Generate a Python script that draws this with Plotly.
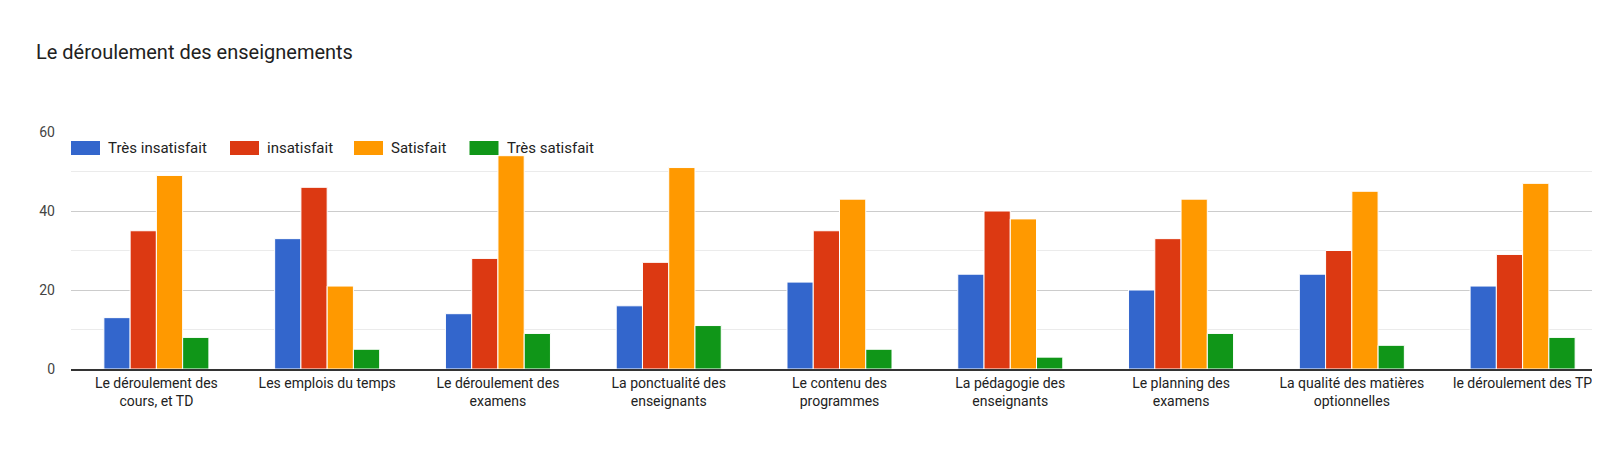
import plotly.graph_objects as go

categories = [
    "Le déroulement des<br>cours, et TD",
    "Les emplois du temps",
    "Le déroulement des<br>examens",
    "La ponctualité des<br>enseignants",
    "Le contenu des<br>programmes",
    "La pédagogie des<br>enseignants",
    "Le planning des<br>examens",
    "La qualité des matières<br>optionnelles",
    "le déroulement des TP",
]

tres_insatisfait = [13, 33, 14, 16, 22, 24, 20, 24, 21]
insatisfait = [35, 46, 28, 27, 35, 40, 33, 30, 29]
satisfait = [49, 21, 54, 51, 43, 38, 43, 45, 47]
tres_satisfait = [8, 5, 9, 11, 5, 3, 9, 6, 8]

series = [
    ("Très insatisfait", tres_insatisfait, "#3366cc"),
    ("insatisfait", insatisfait, "#dc3912"),
    ("Satisfait", satisfait, "#ff9900"),
    ("Très satisfait", tres_satisfait, "#109618"),
]

W, H = 1600, 455
M_L, M_R, M_T, M_B = 63, 0, 124, 94
plot_w = W - M_L - M_R
plot_h = H - M_T - M_B


def px_x(px):
    return (px - M_L) / plot_w


def px_y(py):
    return (H - M_B - py) / plot_h


fig = go.Figure()

for name, vals, color in series:
    fig.add_trace(
        go.Bar(
            x=categories,
            y=vals,
            name=name,
            marker=dict(color=color, line=dict(color="white", width=1)),
            showlegend=False,
        )
    )

# legende dessinee a la main (symboles rectangulaires comme Google Charts)
legend_left = [63, 222, 346, 461.5]
shapes = []
annotations = []
for (name, _, color), lx in zip(series, legend_left):
    shapes.append(dict(
        type="rect", xref="paper", yref="paper",
        x0=px_x(lx), x1=px_x(lx + 29),
        y0=px_y(147), y1=px_y(133),
        fillcolor=color, line=dict(width=0), layer="above",
    ))
    annotations.append(dict(
        text=name, xref="paper", yref="paper",
        x=px_x(lx + 35), y=px_y(140),
        xanchor="left", yanchor="middle", showarrow=False,
        font=dict(size=15, color="#222222"),
    ))

fig.update_layout(
    width=W,
    height=H,
    margin=dict(l=M_L, r=M_R, t=M_T, b=M_B),
    paper_bgcolor="white",
    plot_bgcolor="white",
    font=dict(family="Roboto, Arial, sans-serif", size=14, color="#222222"),
    title=dict(
        text="Le déroulement des enseignements",
        x=28 / W,
        xref="container",
        xanchor="left",
        y=1 - 44 / H,
        yref="container",
        yanchor="middle",
        font=dict(size=20, color="#212121"),
    ),
    barmode="group",
    bargap=0.385,
    bargroupgap=0.0,
    showlegend=False,
    shapes=shapes,
    annotations=annotations,
)

fig.update_xaxes(
    showline=True,
    linecolor="#333333",
    linewidth=1.5,
    showgrid=False,
    ticks="",
    tickfont=dict(size=14, color="#222222"),
    tickangle=0,
)

fig.update_yaxes(
    range=[0, 60],
    dtick=20,
    showgrid=True,
    gridcolor="#cccccc",
    gridwidth=1,
    zeroline=False,
    minor=dict(dtick=10, showgrid=True, gridcolor="#ebebeb", gridwidth=1),
    tickfont=dict(size=14, color="#444444"),
    ticklabelstandoff=15,
)

fig.write_html("out.html")
